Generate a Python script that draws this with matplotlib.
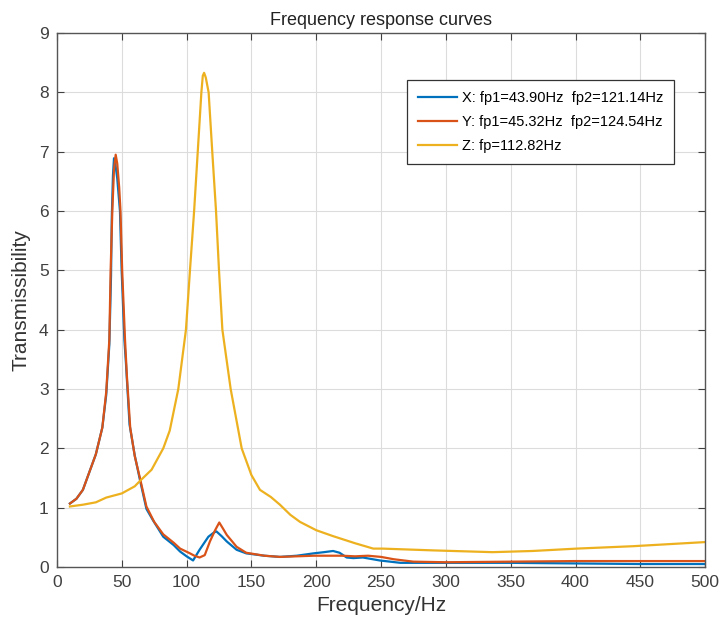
import matplotlib
matplotlib.use("Agg")
import matplotlib.pyplot as plt

plt.rcParams['font.family'] = ['Liberation Sans', 'DejaVu Sans']

# X direction (blue)
fx = [10, 15, 20, 25, 30, 35, 38, 40.4, 41.7, 42.3, 43.2, 44, 45, 46.5, 48.6, 49.9,
      52, 53.2, 56, 60, 64, 69, 74, 82, 90, 95, 100, 105, 110, 116.8, 121, 123, 127,
      131, 138.6, 146, 160, 172, 185, 198, 206, 213, 218, 223.5, 228.6, 236, 249,
      265, 300, 350, 400, 450, 500]
tx = [1.07, 1.15, 1.3, 1.6, 1.9, 2.35, 2.9, 3.75, 4.9, 5.9, 6.6, 6.89, 6.8, 6.55, 6.0, 5.0,
      3.83, 3.44, 2.4, 1.88, 1.47, 0.98, 0.79, 0.51, 0.37, 0.26, 0.18, 0.11, 0.29, 0.51, 0.58, 0.6, 0.52,
      0.43, 0.29, 0.23, 0.19, 0.17, 0.19, 0.23, 0.25, 0.27, 0.24, 0.16, 0.15, 0.16, 0.11,
      0.07, 0.07, 0.07, 0.06, 0.05, 0.05]

# Y direction (red)
fy = [10, 15, 20, 25, 30, 35, 38, 40.4, 41.4, 42.7, 44, 45.3, 46.5, 48, 49, 50.3,
      52.5, 54, 56.5, 60, 64, 69, 75, 82, 90, 95, 102.6, 106, 110, 114, 118, 122, 125.2, 128,
      131, 138.6, 146, 160, 172, 185, 198, 210, 220, 230, 240, 250, 260, 275, 300,
      350, 400, 450, 500]
ty = [1.07, 1.15, 1.3, 1.6, 1.9, 2.35, 2.95, 3.83, 5.0, 6.0, 6.7, 6.95, 6.8, 6.4, 6.0, 5.0,
      3.83, 3.2, 2.35, 1.87, 1.5, 1.02, 0.76, 0.55, 0.41, 0.31, 0.23, 0.19, 0.16, 0.2, 0.43, 0.62, 0.75, 0.65,
      0.54, 0.34, 0.24, 0.19, 0.17, 0.18, 0.19, 0.19, 0.19, 0.18, 0.19, 0.17, 0.13, 0.09, 0.08,
      0.09, 0.1, 0.1, 0.1]

# Z direction (yellow)
fz = [10, 20, 30, 38, 50, 60, 64, 73, 82, 87, 93.6, 99.5, 102.6, 105.8, 108.6, 111.4,
      112.5, 113.5, 114.8, 117, 119.8, 122.7, 125, 127.6, 134, 142.5, 150, 156.6, 165,
      172, 180, 187.5, 200, 213, 230, 244, 251, 290, 336, 367, 401, 444, 500]
tz = [1.02, 1.05, 1.09, 1.17, 1.24, 1.36, 1.45, 1.64, 2.0, 2.3, 3.0, 4.0, 5.0, 6.0, 7.0, 8.0,
      8.28, 8.33, 8.25, 8.0, 7.0, 6.0, 5.0, 4.0, 3.0, 2.0, 1.55, 1.3, 1.18,
      1.05, 0.88, 0.76, 0.62, 0.52, 0.4, 0.31, 0.31, 0.28, 0.25, 0.27, 0.31, 0.35, 0.42]

labels = ['X: fp1=43.90Hz  fp2=121.14Hz',
          'Y: fp1=45.32Hz  fp2=124.54Hz',
          'Z: fp=112.82Hz']

fig = plt.figure(figsize=(7.21, 6.23), dpi=100)
ax = fig.add_axes([0.079, 0.0899, 0.899, 0.857])

ax.plot(fx, tx, color='#0072BD', lw=1.6, label=labels[0])
ax.plot(fy, ty, color='#D95319', lw=1.6, label=labels[1])
ax.plot(fz, tz, color='#EDB120', lw=1.6, label=labels[2])

ax.set_xlim(0, 500)
ax.set_ylim(0, 9)
ax.set_xticks(range(0, 501, 50))
ax.set_yticks(range(0, 10))
ax.grid(True, color='#dcdcdc', lw=0.8)
ax.set_axisbelow(True)
ax.tick_params(direction='in', top=True, right=True, length=5, labelsize=12.5,
               colors='#404040', pad=6)
for s in ax.spines.values():
    s.set_color('#555555')
    s.set_linewidth(1.0)

ax.set_title('Frequency response curves', fontsize=13, color='#222222', pad=6)
ax.set_xlabel('Frequency/Hz', fontsize=15, color='#333333', labelpad=4)
ax.set_ylabel('Transmissibility', fontsize=15, color='#333333', labelpad=6)

leg = ax.legend(loc='upper left', bbox_to_anchor=(0.540, 0.912), fontsize=10.5,
                frameon=True, fancybox=False, edgecolor='#333333', framealpha=1,
                handlelength=2.7, handletextpad=0.3, borderpad=0.75, labelspacing=0.7,
                borderaxespad=0)
leg.get_frame().set_linewidth(0.9)

fig.savefig('out.png', dpi=100)
